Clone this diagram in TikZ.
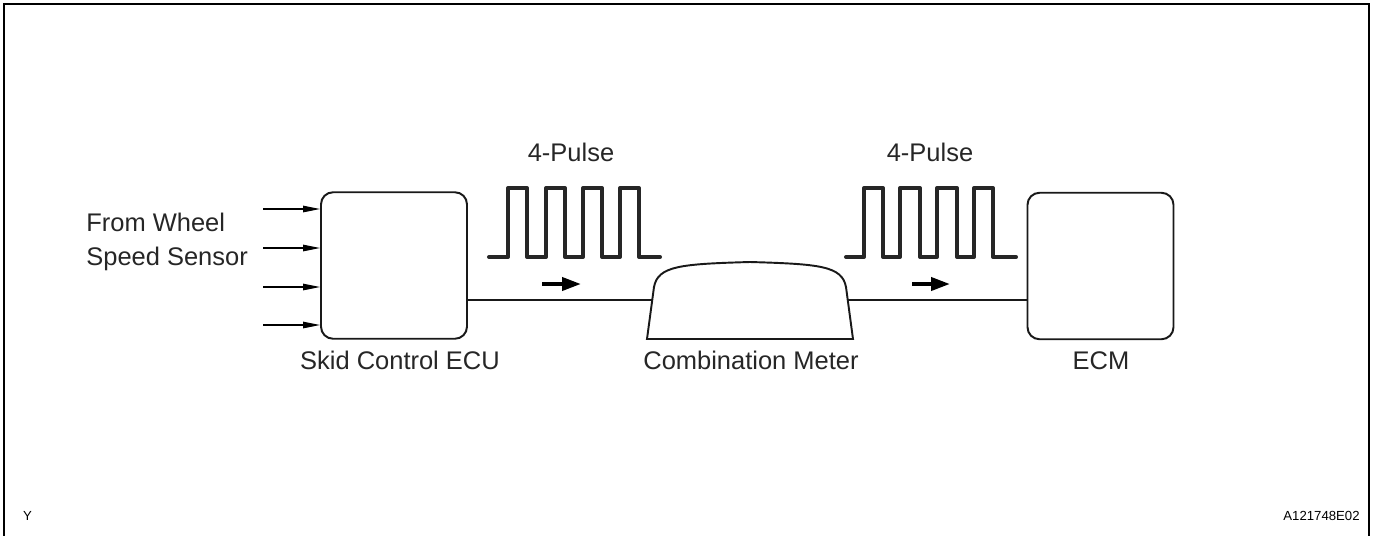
\documentclass[tikz,border=0pt]{standalone}
\usepackage{fontspec}
\setmainfont{Liberation Sans}
\usepackage{tikz}
\usetikzlibrary{arrows.meta,positioning,calc}
\tikzset{
  unitbox/.style={rectangle, rounded corners=0.24cm, draw=black!90, line width=1.1pt,
                  minimum width=2.92cm, minimum height=2.93cm, inner sep=0pt},
  wire/.style={line width=0.85pt, black!90},
  inarrow/.style={-{Triangle[length=0.34cm,width=0.13cm]}, line width=0.6pt},
  dirarrow/.style={-{Triangle[length=0.38cm,width=0.26cm]}, line width=2.2pt},
  pulse/.style={line width=2.3pt, line join=round, line cap=round, black!85},
  lbl/.style={font=\fontsize{14.5}{18.8}\selectfont, inner sep=0pt, text=black!85},
  code/.style={font=\fontsize{7.5}{9}\selectfont, inner sep=0pt},
}
\begin{document}
\begin{tikzpicture}[x=0.02cm, y=-0.02cm]
  \useasboundingbox (0,0) rectangle (1374,535);
  % frame
  \draw[line width=1.15pt] (4,540) -- (4,4) -- (1369,4) -- (1369,540);
  % units
  \node[unitbox] (ecu) at (394,265.5) {};
  \node[unitbox] (ecm) at (1100.5,266) {};
  \draw[line width=1.1pt, black!90] (647,339) -- (654,287)
    .. controls (658,266) and (680,264) .. (750,262)
    .. controls (820,264) and (842,266) .. (846,287) -- (853,339) -- cycle;
  \coordinate (mtrL) at (652.3,300);
  \coordinate (mtrR) at (847.7,300);
  % labels
  \node[lbl, anchor=base] (ecuname) at (400,369) {Skid Control ECU};
  \node[lbl, anchor=base] (mtrname) at (751,369) {Combination Meter};
  \node[lbl, anchor=base] (ecmname) at (1101,369) {ECM};
  \node[lbl, anchor=base west, align=left] (sensor) at (86,265) {From Wheel\\Speed Sensor};
  \node[lbl, anchor=base] (pulseA) at (571,161) {4-Pulse};
  \node[lbl, anchor=base] (pulseB) at (930,161) {4-Pulse};
  % sensor inputs
  \foreach \i/\y in {1/209,2/248,3/287,4/325} {
    \coordinate (in\i) at (263,\y);
    \draw[inarrow] (in\i) -- (in\i -| ecu.west);
  }
  % wires
  \draw[wire] (ecu.east |- mtrL) -- (mtrL);
  \draw[wire] (mtrR) -- (ecm.west |- mtrR);
  % pulse trains
  \draw[pulse] (489,257) -| (508,188) -| (527,257) -| (546,188) -| (565,257)
    -| (583,188) -| (602,257) -| (620,188) -| (639,257) -- (660,257);
  \draw[pulse] (846,257) -| (864,188) -| (883,257) -| (900,188) -| (920,257)
    -| (937,188) -| (957,257) -| (974,188) -| (993,257) -- (1016,257);
  \draw[dirarrow] (542,284) -- (581,284);
  \draw[dirarrow] (912,284) -- (950,284);
  % corner codes
  \node[code, anchor=base] (sheet) at (27.5,520) {Y};
  \node[code, anchor=base east] (figid) at (1360,520) {A121748E02};
\end{tikzpicture}
\end{document}
